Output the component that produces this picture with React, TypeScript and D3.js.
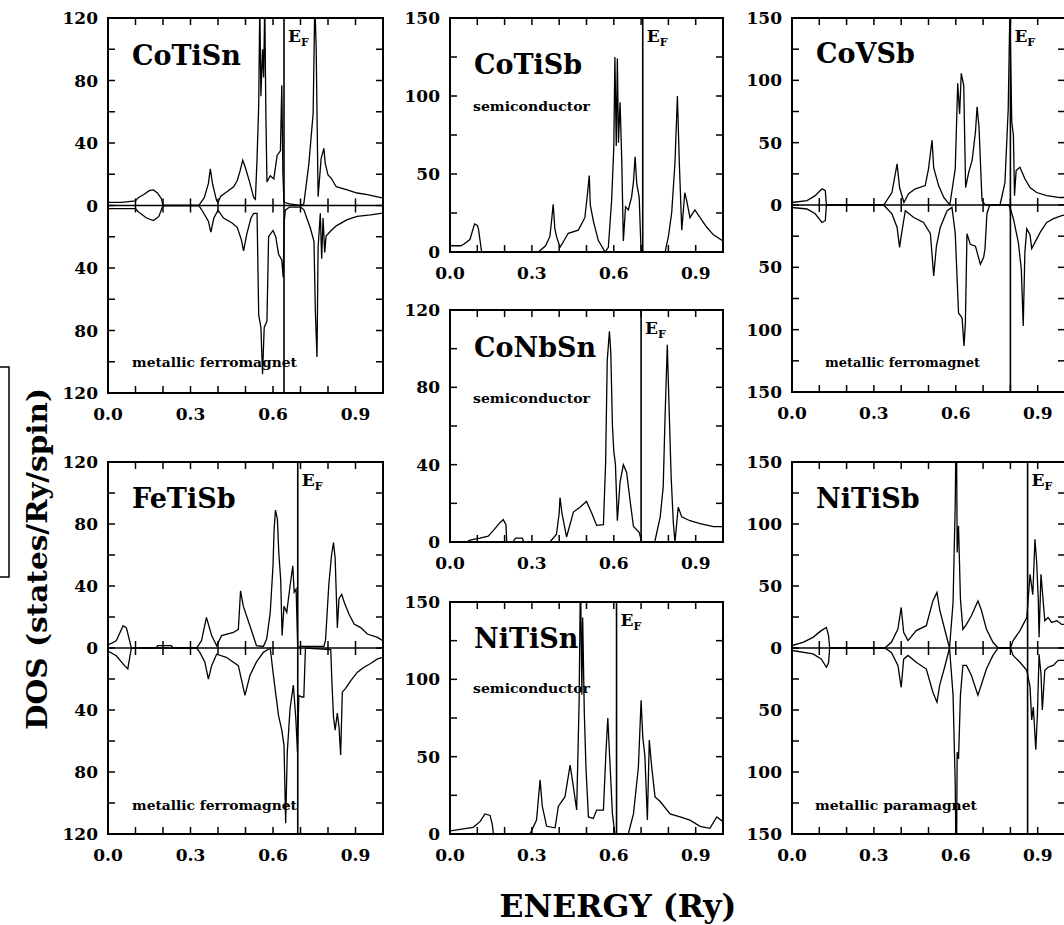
import React from 'react';
import * as d3 from 'd3';

type Pt = [number, number];

// ---- DOS data: [energy (Ry), DOS (states/Ry/spin)] ----
const coTiSnUp: Pt[] = [[0,2],[0.05,2],[0.1,3],[0.11,5],[0.13,7],[0.15,9.5],[0.165,10],[0.18,8],[0.195,4],[0.2,0],[0.33,0],[0.35,5],[0.365,14],[0.372,23.5],[0.38,14],[0.395,3],[0.4,2],[0.41,6],[0.43,8.5],[0.457,12],[0.47,16],[0.48,22],[0.49,29],[0.5,24],[0.515,15],[0.53,5],[0.536,4],[0.542,30],[0.548,64],[0.552,130],[0.556,70],[0.562,100],[0.566,82],[0.57,130],[0.574,60],[0.578,15],[0.59,19],[0.603,17],[0.615,32],[0.627,35],[0.632,77],[0.636,20],[0.64,2],[0.66,1],[0.7,0],[0.712,1],[0.73,26],[0.746,59],[0.752,130],[0.757,101],[0.76,60],[0.764,5.6],[0.775,30],[0.785,36.6],[0.79,27],[0.8,19.5],[0.812,17.4],[0.83,12],[0.87,10],[0.906,8],[0.943,7],[0.992,5],[1.0,5]];
const coTiSnDown: Pt[] = [[0,2],[0.1,2],[0.11,4],[0.14,8],[0.165,9.6],[0.185,7],[0.2,0],[0.33,0],[0.345,4],[0.365,10],[0.374,17],[0.385,8],[0.4,3],[0.42,8],[0.45,11],[0.47,14],[0.485,22],[0.493,29],[0.505,18],[0.52,8],[0.53,5],[0.542,5],[0.548,70],[0.556,78],[0.562,108],[0.568,78],[0.578,74],[0.584,20],[0.6,16],[0.61,20],[0.62,31],[0.632,35],[0.637,46],[0.641,10],[0.645,3],[0.66,1],[0.7,1],[0.712,2.6],[0.736,14.6],[0.749,23],[0.754,68],[0.76,97],[0.764,27],[0.772,5],[0.777,34],[0.782,8],[0.788,30],[0.793,19.5],[0.809,16.5],[0.83,13],[0.87,9],[0.906,7],[0.955,6],[0.992,5],[1.0,5]];

const feTiSbUp: Pt[] = [[0,2],[0.03,4.7],[0.055,14.4],[0.067,13],[0.085,0],[0.176,0],[0.18,1.5],[0.23,1.5],[0.237,0],[0.322,0],[0.34,4.7],[0.358,19.7],[0.377,8],[0.395,1.5],[0.413,8],[0.456,10],[0.474,12],[0.482,36.9],[0.492,27],[0.516,14.4],[0.54,1.5],[0.565,1],[0.577,5.8],[0.59,23],[0.6,53],[0.604,76.5],[0.609,89],[0.616,83],[0.621,61.5],[0.628,44],[0.633,8],[0.64,27],[0.65,23],[0.662,40],[0.672,53],[0.677,36],[0.684,38],[0.69,0],[0.7,1],[0.785,1],[0.791,5],[0.803,41],[0.813,60],[0.82,68],[0.826,58],[0.834,13],[0.84,32],[0.85,34.6],[0.86,29],[0.877,21.6],[0.895,15.4],[0.92,13],[0.943,9],[0.98,6.8],[1.0,4.7]];
const feTiSbDown: Pt[] = [[0,2],[0.03,5],[0.06,11.4],[0.072,13.5],[0.085,0],[0.322,0],[0.334,2.8],[0.352,9],[0.365,20],[0.377,11.4],[0.395,4],[0.43,6],[0.474,11.4],[0.498,30.6],[0.516,17.8],[0.54,9],[0.565,2.8],[0.59,0],[0.6,15.6],[0.62,43.5],[0.632,53],[0.64,62.8],[0.646,113],[0.652,67],[0.662,39],[0.674,24],[0.683,45.6],[0.689,67],[0.694,30.6],[0.705,31.6],[0.712,31.6],[0.718,0],[0.81,1],[0.814,21],[0.82,44.5],[0.826,53],[0.834,42],[0.84,51],[0.846,69],[0.852,28.5],[0.864,26],[0.883,21],[0.907,15.6],[0.931,12.4],[0.955,10],[0.98,7],[1.0,6]];

const coTiSbDos: Pt[] = [[0,4],[0.04,4],[0.05,5],[0.073,8],[0.09,18],[0.1,17],[0.104,15],[0.116,0],[0.324,0],[0.35,4],[0.366,10],[0.372,20],[0.378,30.6],[0.384,15],[0.39,10],[0.403,3],[0.41,5],[0.433,12],[0.47,14],[0.494,22],[0.504,38],[0.51,49],[0.514,30],[0.525,20],[0.543,7.5],[0.568,0],[0.58,3],[0.592,33],[0.6,67],[0.604,125],[0.609,68],[0.613,124],[0.617,70],[0.623,96],[0.629,60],[0.635,7],[0.643,29],[0.653,27],[0.665,35],[0.672,45],[0.678,61],[0.684,44],[0.693,35],[0.7,0],[0.788,0],[0.8,10],[0.812,25],[0.824,57],[0.833,100],[0.84,57],[0.849,14],[0.86,38],[0.867,33],[0.879,22],[0.897,27],[0.916,22],[0.94,16],[0.965,11],[1.0,7]];

const coNbSnDos: Pt[] = [[0,0],[0.06,0],[0.073,1],[0.11,2],[0.14,3],[0.159,6],[0.183,10],[0.195,11.6],[0.205,9],[0.208,0],[0.23,0],[0.24,2],[0.265,2],[0.27,0],[0.366,0],[0.39,4],[0.4,15],[0.403,23],[0.41,15],[0.427,2.6],[0.452,15.5],[0.476,18],[0.5,21],[0.519,15],[0.537,8.6],[0.562,9],[0.57,41],[0.576,94],[0.584,109],[0.589,98],[0.595,60],[0.6,47],[0.606,40],[0.613,11],[0.623,31],[0.635,40],[0.647,36],[0.66,21],[0.672,8],[0.693,5],[0.702,0],[0.75,0],[0.77,13],[0.781,28.5],[0.788,66],[0.796,102],[0.802,72],[0.81,34],[0.818,10],[0.824,0],[0.836,18],[0.849,13],[0.879,11],[0.916,9.5],[0.965,8],[1.0,8]];

const niTiSnDos: Pt[] = [[0,2],[0.037,3],[0.085,4.3],[0.11,8],[0.128,13],[0.147,12],[0.155,6],[0.159,0],[0.293,0],[0.317,9],[0.33,35],[0.338,18],[0.354,5],[0.385,4],[0.397,18],[0.421,24],[0.44,44.5],[0.452,30.5],[0.464,15.5],[0.473,86],[0.478,170],[0.483,90],[0.486,140],[0.492,78],[0.498,43],[0.507,11],[0.525,10],[0.537,15.5],[0.562,15.5],[0.571,52],[0.578,75],[0.586,45.6],[0.595,13],[0.604,0],[0.653,0],[0.672,13],[0.69,43],[0.7,86.5],[0.706,63],[0.714,50],[0.723,9],[0.73,60.7],[0.739,43],[0.751,24],[0.77,21],[0.806,13],[0.843,11],[0.879,9],[0.916,5],[0.952,3.7],[0.977,11],[1.0,8]];

const coVSbUp: Pt[] = [[0,2],[0.055,3.5],[0.085,7.5],[0.11,13],[0.122,11.5],[0.126,0],[0.336,0],[0.366,10],[0.385,33],[0.394,14],[0.41,2],[0.427,9],[0.452,13],[0.488,15.6],[0.5,29],[0.513,52],[0.519,30],[0.537,15.6],[0.556,6],[0.578,0],[0.598,29],[0.607,97.6],[0.614,73],[0.62,105.6],[0.629,96],[0.636,14],[0.647,26],[0.66,36],[0.672,58.6],[0.678,78.8],[0.685,62.6],[0.696,3.5],[0.708,0],[0.762,0],[0.78,18],[0.792,77],[0.798,155],[0.805,66.6],[0.811,56],[0.815,7.5],[0.821,27.6],[0.835,30.3],[0.853,21],[0.872,14],[0.896,10],[0.933,7.5],[0.982,6],[1.0,6]];
const coVSbDown: Pt[] = [[0,2],[0.055,3.2],[0.085,7],[0.11,14],[0.122,12.6],[0.126,0],[0.336,0],[0.366,7],[0.385,18],[0.394,34],[0.403,20.7],[0.415,4.6],[0.446,10],[0.482,14],[0.507,23],[0.519,57],[0.529,33],[0.543,18],[0.568,4.6],[0.586,2],[0.598,23],[0.61,86.6],[0.623,90.6],[0.63,113],[0.635,95],[0.641,23],[0.653,31.5],[0.672,33],[0.69,47.6],[0.702,42],[0.707,35],[0.714,7],[0.724,0],[0.794,0],[0.8,3],[0.811,11],[0.829,30],[0.84,51.5],[0.847,97],[0.853,38],[0.86,19],[0.872,24],[0.878,35],[0.89,30],[0.909,22],[0.933,14],[0.958,11],[0.988,8.6],[1.0,8]];

const niTiSbUp: Pt[] = [[0,2],[0.04,4.6],[0.077,8.6],[0.107,14],[0.126,16.6],[0.134,10],[0.138,0],[0.34,0],[0.364,4.6],[0.388,15.3],[0.4,32.7],[0.409,12.6],[0.425,6],[0.455,14],[0.492,18],[0.516,38],[0.531,44.8],[0.541,31],[0.559,15.3],[0.577,0],[0.59,36.8],[0.598,117],[0.602,200],[0.605,77],[0.61,98.5],[0.617,39.4],[0.626,15],[0.639,19],[0.657,26],[0.681,38],[0.693,31],[0.712,15.3],[0.736,4.6],[0.755,0],[0.8,0],[0.81,6],[0.835,14],[0.86,24.6],[0.872,59.5],[0.882,43],[0.89,87.7],[0.896,70],[0.902,40],[0.905,8.6],[0.912,59.5],[0.917,46],[0.926,22],[0.938,24.6],[0.951,20.6],[0.97,22],[0.988,19],[1.0,19]];
const niTiSbDown: Pt[] = [[0,2],[0.077,4.8],[0.107,8.8],[0.126,15.5],[0.134,12],[0.138,0],[0.34,0],[0.364,3.5],[0.388,14],[0.4,31.7],[0.409,9],[0.425,6],[0.455,11.5],[0.492,17],[0.516,35.7],[0.531,43.7],[0.541,30],[0.559,15.5],[0.577,0],[0.59,38],[0.598,110.8],[0.602,200],[0.605,84],[0.61,89.4],[0.617,38],[0.626,14],[0.639,14],[0.657,22],[0.681,38],[0.693,30],[0.712,17],[0.736,6],[0.755,0],[0.8,0],[0.81,6],[0.835,11.5],[0.86,18],[0.872,31.6],[0.878,58],[0.884,47.6],[0.893,82],[0.899,53],[0.905,5],[0.912,21],[0.917,50],[0.926,18],[0.938,15.5],[0.957,14],[0.975,10],[1.0,10]];

// ---- labels / categories ----
const compounds = ['CoTiSn', 'FeTiSb', 'CoTiSb', 'CoNbSn', 'NiTiSn', 'CoVSb', 'NiTiSb'];
const subtitles = ['metallic ferromagnet', 'metallic ferromagnet', 'semiconductor', 'semiconductor', 'semiconductor', 'metallic ferromagnet', 'metallic paramagnet'];
const fermiEnergies = [0.64, 0.69, 0.706, 0.70, 0.61, 0.80, 0.863];
const yMaxima = [120, 120, 150, 120, 150, 150, 120 + 30];
const xTickLabels = ['0.0', '0.3', '0.6', '0.9'];
const xTickValues = [0, 0.3, 0.6, 0.9];

const FONT = '"DejaVu Serif", "Liberation Serif", serif';

interface Layout {
  x0: number; x1: number; y0: number; y1: number;
  major: number; minor: number;
  titleDY: number; subX: number; subY: number; subLen: number;
}

const layouts: Layout[] = [
  { x0: 108, x1: 383, y0: 18, y1: 393, major: 40, minor: 20, titleDY: 47, subX: 132, subY: 367, subLen: 165 },
  { x0: 108, x1: 383, y0: 462, y1: 834, major: 40, minor: 20, titleDY: 46, subX: 132, subY: 810, subLen: 165 },
  { x0: 450, x1: 723, y0: 18, y1: 252, major: 50, minor: 25, titleDY: 56, subX: 473, subY: 111, subLen: 117 },
  { x0: 450, x1: 723, y0: 310, y1: 542, major: 40, minor: 20, titleDY: 47, subX: 473, subY: 403, subLen: 117 },
  { x0: 450, x1: 723, y0: 602, y1: 834, major: 50, minor: 25, titleDY: 46, subX: 473, subY: 693, subLen: 117 },
  { x0: 792, x1: 1065, y0: 18, y1: 392, major: 50, minor: 25, titleDY: 45, subX: 825, subY: 367, subLen: 155 },
  { x0: 792, x1: 1065, y0: 462, y1: 834, major: 50, minor: 25, titleDY: 46, subX: 815, subY: 810, subLen: 162 },
];

const seriesUp: Pt[][] = [coTiSnUp, feTiSbUp, coTiSbDos, coNbSnDos, niTiSnDos, coVSbUp, niTiSbUp];
const seriesDown: (Pt[] | null)[] = [coTiSnDown, feTiSbDown, null, null, null, coVSbDown, niTiSbDown];

function Panel({ i }: { i: number }) {
  const L = layouts[i];
  const ymax = yMaxima[i];
  const down = seriesDown[i];
  const polarized = !!down;
  const x = d3.scaleLinear().domain([0, 1]).range([L.x0, L.x1]);
  const y = d3.scaleLinear().domain(polarized ? [-ymax, ymax] : [0, ymax]).range([L.y1, L.y0]);
  const line = d3.line<Pt>().x(d => x(d[0])).y(d => y(d[1]));
  const lineDown = d3.line<Pt>().x(d => x(d[0])).y(d => y(-d[1]));
  const clipId = `clip${i}`;
  const yMin = polarized ? -ymax : 0;
  const minorTicks = d3.range(yMin, ymax + 0.001, L.minor);
  const majorTicks = d3.range(yMin, ymax + 0.001, L.major);
  const xMinor = d3.range(0, 1.0001, 0.1);
  const ef = fermiEnergies[i];
  const tl = 7;
  return (
    <g>
      <defs>
        <clipPath id={clipId}>
          <rect x={L.x0} y={L.y0} width={L.x1 - L.x0} height={L.y1 - L.y0} />
        </clipPath>
      </defs>
      <g clipPath={`url(#${clipId})`} fill="none" stroke="#000" strokeWidth={1.3}>
        <path d={line(seriesUp[i]) || ''} />
        {down && <path d={lineDown(down) || ''} />}
      </g>
      {/* ticks */}
      <g stroke="#000" strokeWidth={1.5}>
        {xMinor.map((t, k) => (
          <g key={'xt' + k}>
            <line x1={x(t)} x2={x(t)} y1={L.y0} y2={L.y0 + tl} />
            <line x1={x(t)} x2={x(t)} y1={L.y1} y2={L.y1 - tl} />
            {polarized && k > 0 && k < 10 && (
              <line x1={x(t)} x2={x(t)} y1={y(0) - tl} y2={y(0) + tl} />
            )}
          </g>
        ))}
        {minorTicks.map((t, k) => (
          <g key={'yt' + k}>
            <line x1={L.x0} x2={L.x0 + tl} y1={y(t)} y2={y(t)} />
            <line x1={L.x1} x2={L.x1 - tl} y1={y(t)} y2={y(t)} />
          </g>
        ))}
      </g>
      {polarized && (
        <line x1={L.x0} x2={L.x1} y1={y(0)} y2={y(0)} stroke="#000" strokeWidth={1.5} />
      )}
      <line x1={x(ef)} x2={x(ef)} y1={L.y0} y2={L.y1} stroke="#000" strokeWidth={1.6} />
      <rect x={L.x0} y={L.y0} width={L.x1 - L.x0} height={L.y1 - L.y0} fill="none" stroke="#000" strokeWidth={2} />
      {/* tick labels */}
      <g fontFamily={FONT} fontWeight="bold" fontSize={17} fill="#000">
        {majorTicks.map((t, k) => (
          <text key={'yl' + k} x={L.x0 - 10} y={y(t) + 6} textAnchor="end">{Math.abs(t)}</text>
        ))}
        {xTickValues.map((t, k) => (
          <text key={'xl' + k} x={x(t)} y={L.y1 + 27} textAnchor="middle">{xTickLabels[k]}</text>
        ))}
      </g>
      <text x={L.x0 + 24} y={L.y0 + L.titleDY} fontFamily={FONT} fontWeight="bold" fontSize={27}>{compounds[i]}</text>
      <text x={L.subX} y={L.subY} fontFamily={FONT} fontWeight="bold" fontSize={13.5} textLength={L.subLen} lengthAdjust="spacingAndGlyphs">{subtitles[i]}</text>
      <text x={x(ef) + 4} y={L.y0 + 24} fontFamily={FONT} fontWeight="bold" fontSize={17}>
        E<tspan fontSize={11} dy={4}>F</tspan>
      </text>
    </g>
  );
}

export default function App() {
  return (
    <svg width={1064} height={925} style={{ position: 'absolute', left: 0, top: 0, background: '#fff' }}>
      <rect x={0} y={0} width={1064} height={925} fill="#fff" />
      {compounds.map((_, i) => <Panel key={i} i={i} />)}
      <path d="M0,367 H9 V577 H0" fill="none" stroke="#000" strokeWidth={1.5} />
      <text transform="translate(47,559) rotate(-90)" textAnchor="middle" fontFamily={FONT} fontWeight="bold" fontSize={27} textLength={342} lengthAdjust="spacingAndGlyphs">DOS (states/Ry/spin)</text>
      <text x={618} y={917} textAnchor="middle" fontFamily={FONT} fontWeight="bold" fontSize={32} textLength={237} lengthAdjust="spacingAndGlyphs">ENERGY (Ry)</text>
    </svg>
  );
}
